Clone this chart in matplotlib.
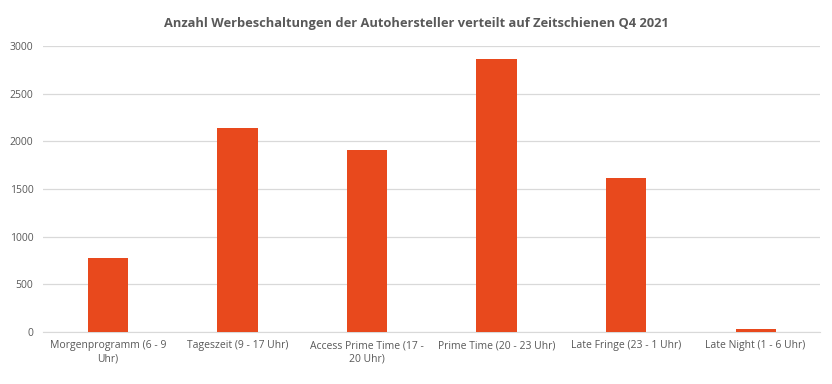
import matplotlib.pyplot as plt
import numpy as np

# Daten
kategorien = ['Morgenprogramm (6 - 9\nUhr)', 'Tageszeit (9 - 17 Uhr)', 'Access Prime Time (17 -\n20 Uhr)',
              'Prime Time (20 - 23 Uhr)', 'Late Fringe (23 - 1 Uhr)', 'Late Night (1 - 6 Uhr)']
werte = [780, 2145, 1905, 2860, 1620, 30]
y_ticks = [0, 500, 1000, 1500, 2000, 2500, 3000]

plt.rcParams['font.family'] = ['Open Sans', 'DejaVu Sans']

fig = plt.figure(figsize=(8.32, 3.84), dpi=100)
ax = fig.add_axes([0.052, 0.135, 0.934, 0.745])

x = np.arange(len(kategorien))
ax.bar(x, werte, width=0.31, color='#E8491D', zorder=3)

ax.set_xlim(-0.5, len(kategorien) - 0.5)
ax.set_ylim(0, 3000)
ax.set_yticks(y_ticks)
ax.set_xticks(x)
ax.set_xticklabels(kategorien, fontsize=7.5, color='#595959', linespacing=1.3)
ax.tick_params(axis='y', labelsize=7.5, labelcolor='#595959', length=0, pad=7)
ax.tick_params(axis='x', length=0, pad=6)
ax.grid(axis='y', color='#D9D9D9', linewidth=0.9, zorder=0)
for s in ['top', 'right', 'left']:
    ax.spines[s].set_visible(False)
ax.spines['bottom'].set_color('#D9D9D9')

fig.text(0.5, 0.94, 'Anzahl Werbeschaltungen der Autohersteller verteilt auf Zeitschienen Q4 2021',
         ha='center', va='center', fontsize=9.3, fontweight='bold', color='#595959')

plt.savefig('out.png', dpi=100)
